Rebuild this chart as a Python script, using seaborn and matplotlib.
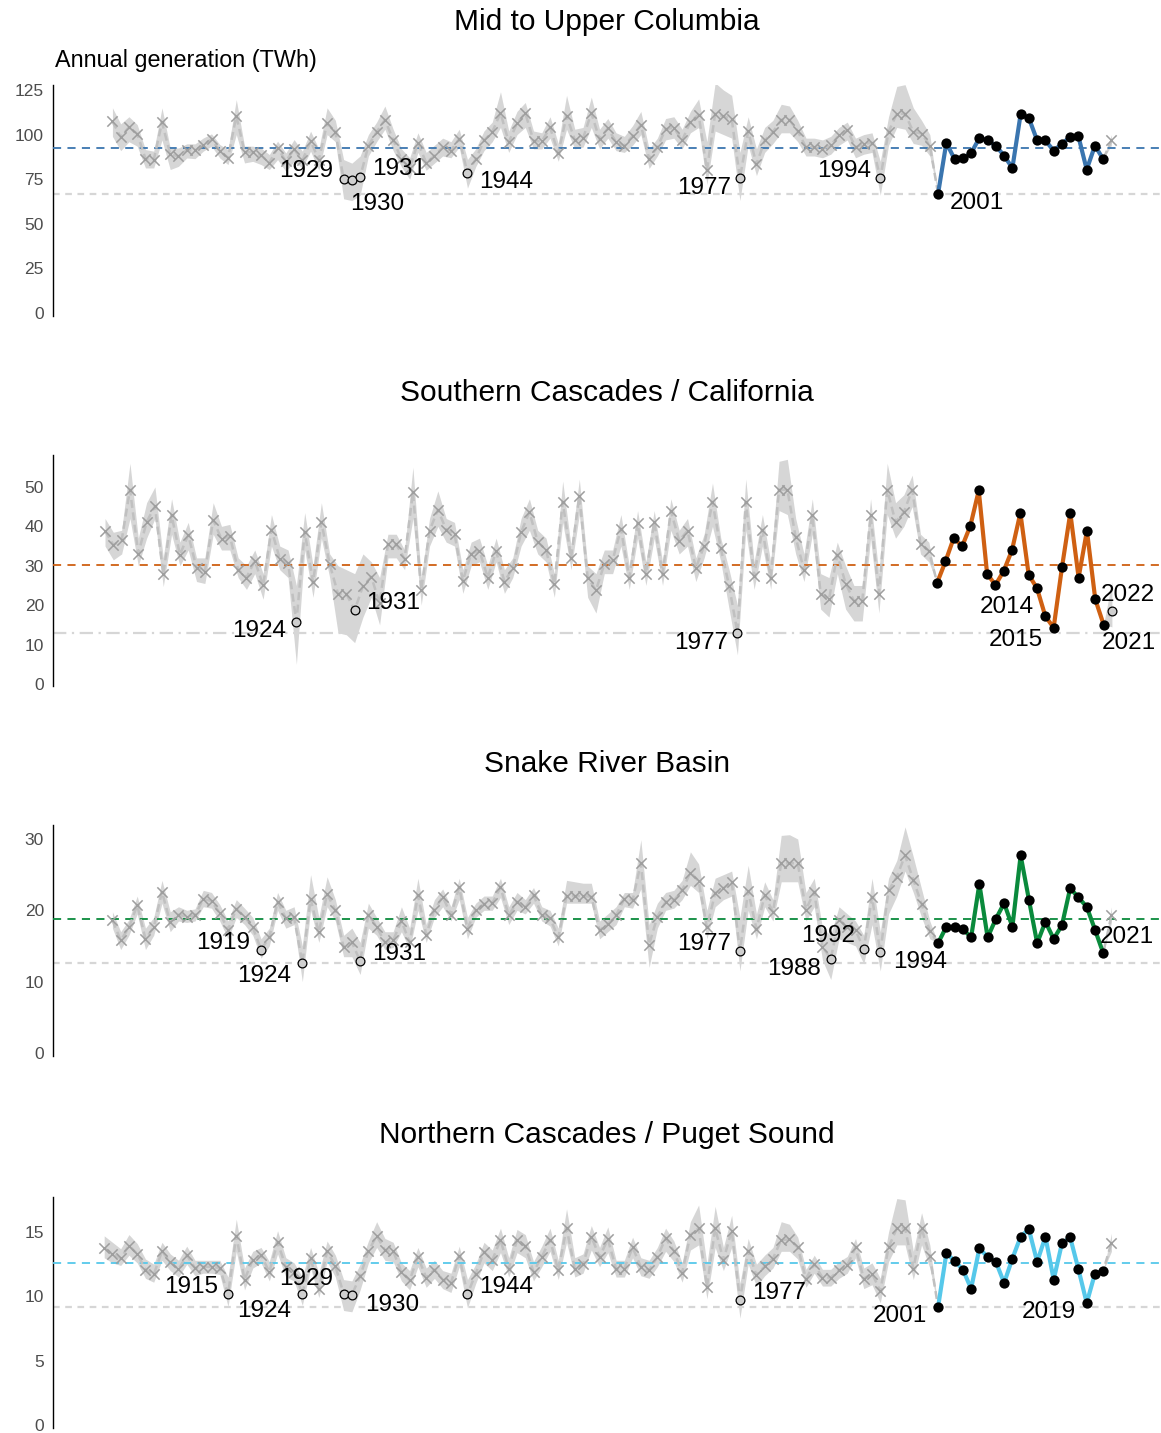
import numpy as np
import pandas as pd
import matplotlib
matplotlib.use('Agg')
import matplotlib.pyplot as plt
import seaborn as sns

# ---- data (TWh) ----
regions = ['Mid to Upper Columbia', 'Southern Cascades / California',
           'Snake River Basin', 'Northern Cascades / Puget Sound']
line_colors = ['#3A75AF', '#CF6012', '#0A8A3C', '#56C8EA']

# Mid to Upper Columbia, reconstructed 1901-2000 (median, low, high)
col_med = [107.4, 98.6, 104.2, 100.4, 86.5, 85.8, 106.8, 89.0, 87.8, 91.3,
           91.1, 94.1, 97.4, 90.8, 87.0, 110.4, 90.3, 90.0, 88.4, 84.2,
           92.5, 85.1, 91.8, 85.5, 96.2, 86.0, 106.3, 101.5, 75.0, 74.6,
           76.2, 93.8, 101.5, 108.3, 97.1, 86.2, 81.3, 95.4, 84.2, 88.1,
           92.9, 91.0, 97.7, 78.5, 86.2, 96.7, 101.5, 112.1, 95.8, 106.3,
           112.1, 96.5, 96.2, 104.0, 89.6, 110.5, 97.0, 97.9, 112.1, 97.3,
           103.5, 95.8, 93.8, 99.2, 105.4, 86.5, 92.9, 103.1, 103.8, 96.7,
           107.3, 111.2, 80.0, 111.7, 110.2, 108.8, 75.6, 101.9, 83.3, 96.7,
           101.5, 108.3, 108.3, 101.9, 92.9, 92.9, 91.9, 94.2, 99.6, 102.5,
           92.9, 94.8, 95.4, 75.6, 101.5, 111.7, 111.7, 101.5, 100.6, 93.8]
col_lo = [99, 91, 96, 93.5, 81.3, 81.3, 97, 80.4, 82.2, 86.9,
          86.5, 90.7, 93.5, 86.9, 83.2, 100, 84.1, 85, 83.2, 80.4,
          86, 79.4, 85, 81.3, 90.7, 80, 100, 96, 64, 63,
          66, 88, 96, 103, 91, 82, 75, 90, 80, 84,
          88, 87, 93, 70, 82, 91, 96, 104, 90, 100,
          104, 92, 92, 98, 85, 103, 92, 93, 104, 92,
          98, 91, 90, 94, 100, 81, 88, 97, 98, 92,
          101, 104, 72, 102, 100, 98, 63, 94, 77, 90,
          95, 101, 101, 96, 88, 88, 87, 89, 94, 97,
          87, 89, 90, 66, 94, 104, 103, 95, 94, 88]
col_hi = [115, 106, 110, 105.6, 91.6, 90.7, 115, 92.5, 92.5, 94.8,
          94.8, 98.1, 100.4, 94.4, 91.6, 119.6, 93.5, 93.5, 92.5, 88.8,
          96.3, 89.7, 97.2, 90.7, 101.9, 92, 115, 108, 86, 84,
          88, 100, 107, 116, 103, 92, 87, 101, 90, 94,
          98, 96, 103, 86, 92, 102, 107, 124, 102, 113,
          118, 102, 101, 110, 95, 122, 103, 104, 121, 103,
          109, 101, 99, 105, 113, 92, 98, 109, 110, 103,
          113, 120, 96, 129, 125, 122, 90, 110, 92, 104,
          108, 117, 116, 108, 98, 98, 97, 99, 104, 107,
          98, 100, 101, 85, 110, 127, 128, 115, 108, 100]
col_obs = [66.9, 95.4, 86.2, 86.7, 89.6, 98.1, 96.7, 93.8, 88.1, 81.3, 111.5,
           109.2, 96.7, 96.7, 91.0, 94.8, 98.7, 99.0, 80.4, 93.8, 86.2]
col_2022 = [96.7, 94, 100]

# Southern Cascades / California
cal_med = [38.9, 35.3, 36.5, 49.3, 33.1, 41.1, 45.1, 27.8, 42.8, 32.8,
           37.8, 29.5, 28.5, 41.6, 36.8, 37.5, 29.0, 27.0, 31.3, 25.0,
           39.2, 31.8, 30.6, 15.8, 38.6, 25.8, 41.1, 30.4, 22.9, 22.9,
           18.7, 24.9, 27.2, 20.5, 35.4, 35.4, 31.7, 48.7, 23.8, 38.9,
           44.2, 39.2, 38.1, 26.2, 33.1, 33.8, 27.0, 33.7, 26.0, 29.4,
           38.5, 43.6, 36.1, 34.0, 25.3, 46.2, 32.0, 47.7, 27.0, 23.8,
           30.4, 31.4, 39.4, 27.0, 40.8, 28.0, 41.1, 27.9, 43.9, 36.4,
           38.9, 29.4, 35.1, 46.2, 34.4, 24.9, 13.0, 46.2, 27.4, 39.1,
           27.0, 49.3, 49.3, 37.2, 28.9, 42.8, 22.9, 21.5, 32.8, 25.5,
           21.1, 21.1, 42.8, 22.9, 49.3, 41.1, 43.6, 49.3, 35.5, 33.8]
cal_lo = [35, 31.5, 33, 42, 30, 37, 42, 24.7, 38, 30,
          34, 26, 25.5, 38, 34, 34, 27, 24, 28, 21.5,
          35, 29, 27, 5, 34, 22, 37, 27, 13, 12.5,
          10.5, 17, 22, 15, 32, 32, 29, 42, 20, 35,
          40, 36, 35, 23, 30, 31, 24, 31, 23, 27,
          35, 39, 33, 31, 22, 41, 29, 43, 22, 18,
          28, 28, 35, 24, 37, 25, 37, 25, 39, 33,
          35, 26, 32, 40, 31, 19, 7.4, 39, 24, 35,
          24, 44, 43, 33, 26, 38, 19, 17, 28, 19,
          16, 16, 37, 18, 43, 37, 40, 45, 33, 31]
cal_hi = [42, 38.5, 39, 56, 37, 46, 50, 32, 47, 36,
          41, 32, 32, 46, 40, 40.5, 32, 30, 34, 28,
          43, 35, 34, 25, 43.5, 30, 46, 33, 30, 29,
          28, 33, 31, 27, 38, 38, 34, 55, 27, 42,
          49, 42, 41, 29, 36, 37, 30, 37, 29, 32,
          42, 47, 39, 37, 28, 51.5, 35, 52, 30, 28,
          34, 34, 43, 30, 44, 31, 44, 31, 47, 39,
          42, 32, 38, 51, 37, 29, 20, 52, 31, 43,
          31, 56.5, 57, 42, 33, 47, 28, 27, 36, 30,
          25, 25, 47, 28, 56, 46, 48, 53, 38, 36]
cal_obs = [25.7, 31.1, 37.1, 34.9, 40.2, 49.1, 28.0, 25.1, 28.7, 34.0, 43.4,
           27.7, 24.3, 17.2, 14.3, 29.6, 43.4, 27.0, 38.9, 21.5, 15.1]
cal_2022 = [18.5, 14.5, 26]

# Snake River Basin
snk_med = [18.6, 15.8, 17.6, 20.7, 16.0, 17.6, 22.6, 18.3, 19.4, 19.1,
           19.3, 21.6, 21.3, 19.6, 17.3, 20.2, 19.1, 17.6, 14.5, 16.2,
           21.2, 18.9, 19.0, 12.6, 21.6, 16.9, 22.3, 20.0, 14.8, 15.5,
           12.9, 19.4, 17.7, 15.5, 15.8, 18.5, 15.5, 22.1, 16.6, 20.1,
           21.9, 19.4, 23.2, 17.4, 20.1, 20.9, 21.0, 23.2, 19.3, 21.2,
           20.4, 22.1, 19.4, 18.9, 16.2, 22.0, 22.0, 22.0, 21.9, 17.2,
           18.1, 19.3, 21.6, 21.4, 26.6, 15.2, 19.1, 21.2, 21.4, 22.8,
           25.3, 24.1, 17.6, 22.4, 23.1, 24.0, 14.3, 22.7, 17.4, 22.1,
           19.8, 26.6, 26.6, 26.6, 20.1, 22.6, 14.9, 13.2, 18.7, 17.7,
           17.2, 14.6, 21.9, 14.1, 22.8, 24.7, 27.7, 24.3, 20.9, 17.1]
snk_lo = [17.5, 14.5, 16.5, 19.5, 14.5, 16.5, 21, 17, 18.5, 18.3,
          18.5, 20.5, 20.3, 18.5, 16, 19, 18, 16.5, 13.3, 15,
          20, 17.5, 18, 10, 20, 15.5, 20.5, 18.5, 13.5, 13.5,
          11, 17.5, 16.5, 14.5, 14.8, 17, 14.5, 20, 15.5, 19,
          20.5, 18.5, 21.5, 16, 19, 20, 20, 21.8, 18, 20,
          19.5, 21, 18.5, 17.8, 15, 21, 21, 21, 21, 16,
          17, 18, 20.5, 20.3, 23, 12, 17.5, 20, 20.3, 21.5,
          23.5, 22.5, 16, 20.5, 21.5, 22, 11.5, 20, 16, 20.5,
          18.5, 24, 24, 24, 18.5, 20.5, 13, 10.3, 16, 15.5,
          15, 12.5, 18, 11.5, 19.5, 22, 25.5, 22.5, 19, 16]
snk_hi = [19.8, 17, 18.7, 22, 17.5, 19, 24.2, 19.8, 20.5, 20,
          20.2, 22.8, 22.5, 20.8, 18.5, 21.5, 20.3, 19, 16, 17.5,
          22.5, 20, 20.5, 15, 25, 19, 24.7, 21.5, 16.5, 17.5,
          15.5, 21, 19, 17, 17, 20.5, 17.5, 24.5, 18, 21.5,
          23, 20.5, 24.5, 19, 21, 22, 22, 24.5, 20.5, 22.5,
          21.5, 23.2, 20.5, 20, 17.5, 24.2, 24, 23.8, 23.8, 18.5,
          19.5, 20.5, 22.5, 22.5, 29.9, 18, 21, 22.5, 22.8, 24.2,
          28.2, 26.5, 20, 24.5, 25, 25.5, 19, 26.3, 19.5, 24,
          21.5, 30.5, 30.6, 30, 22.5, 24.5, 17.5, 16.5, 20.5, 19.5,
          18.5, 16.5, 24.5, 17, 24.5, 27, 31.7, 27.5, 23, 18.5]
snk_obs = [15.4, 17.7, 17.6, 17.4, 16.2, 23.7, 16.2, 18.8, 21.0, 17.7, 27.7,
           21.5, 15.4, 18.4, 16.0, 17.9, 23.1, 21.8, 20.5, 17.3, 14.0]
snk_2022 = [19.3, 18.3, 20.5]

# Northern Cascades / Puget Sound (starts 1900)
pug_med = [13.75,
           13.3, 12.95, 13.95, 13.3, 12.08, 11.7, 13.5, 12.65, 12.1, 13.2,
           12.2, 12.3, 12.3, 12.2, 10.15, 14.7, 11.3, 12.85, 13.2, 11.9,
           14.2, 12.3, 11.9, 10.2, 12.95, 10.6, 13.5, 12.35, 10.2, 10.13,
           11.56, 13.5, 14.7, 13.6, 13.5, 11.9, 11.25, 13.07, 11.46, 12.08,
           11.3, 11.04, 13.13, 10.16, 11.77, 13.46, 12.81, 14.38, 12.16, 14.38,
           13.91, 11.9, 13.07, 14.38, 12.03, 15.29, 12.16, 12.5, 14.64, 13.07,
           14.43, 12.16, 12.16, 13.8, 12.29, 12.03, 13.07, 14.51, 13.52, 11.82,
           14.77, 15.29, 10.73, 15.29, 12.81, 15.1, 9.74, 13.54, 11.64, 12.34,
           12.94, 14.38, 14.43, 13.8, 11.38, 12.5, 11.46, 11.46, 12.03, 12.42,
           13.8, 11.38, 11.77, 10.42, 13.8, 15.29, 15.29, 12.16, 15.29, 13.13]
pug_lo = [13.0,
          12.6, 12.4, 13.2, 12.6, 11.4, 11.1, 12.8, 12.0, 11.5, 12.5,
          11.6, 11.8, 11.8, 11.7, 9.2, 13.5, 10.5, 12.2, 12.6, 11.2,
          13.3, 11.5, 11.2, 9.3, 12.2, 9.9, 12.7, 11.5, 8.9, 8.8,
          10.5, 12.6, 13.8, 12.8, 12.7, 11.2, 10.5, 12.3, 10.7, 11.4,
          10.6, 10.3, 12.3, 9.1, 11.0, 12.6, 12.0, 13.4, 11.5, 13.4,
          13.0, 11.2, 12.3, 13.5, 11.3, 14.2, 11.5, 11.8, 13.6, 12.3,
          13.4, 11.5, 11.5, 13.0, 11.6, 11.4, 12.3, 13.5, 12.7, 11.1,
          13.6, 14.0, 9.8, 13.8, 12.0, 13.8, 8.3, 12.5, 10.8, 11.6,
          12.2, 13.5, 13.5, 12.9, 10.7, 11.8, 10.8, 10.8, 11.4, 11.8,
          13.0, 10.6, 10.9, 9.5, 12.7, 14.0, 14.0, 11.3, 14.0, 12.2]
pug_hi = [14.7,
          14.2, 13.7, 14.8, 14.1, 12.9, 12.5, 14.2, 13.3, 12.8, 13.9,
          12.8, 12.8, 12.8, 12.8, 11.5, 16.0, 12.2, 13.5, 13.8, 12.7,
          15.1, 13.0, 12.6, 11.5, 13.8, 11.8, 14.3, 13.2, 11.3, 11.2,
          12.5, 14.3, 15.8, 14.5, 14.2, 12.6, 12.0, 13.8, 12.2, 12.8,
          12.0, 11.8, 13.9, 11.3, 12.5, 14.2, 13.6, 15.3, 13.0, 15.2,
          14.8, 12.7, 13.9, 15.3, 12.8, 16.8, 13.0, 13.3, 15.5, 13.8,
          15.4, 12.8, 12.8, 14.6, 13.0, 12.8, 13.8, 15.3, 14.3, 12.6,
          15.8, 17.1, 12.5, 17.0, 13.8, 16.3, 11.0, 14.5, 12.5, 13.2,
          13.8, 15.8, 15.6, 14.6, 12.1, 13.2, 12.1, 12.1, 12.7, 13.1,
          14.5, 12.2, 12.6, 11.4, 15.0, 17.6, 17.5, 13.5, 16.5, 14.0]
pug_obs = [9.17, 13.33, 12.76, 12.08, 10.60, 13.72, 13.07, 12.68, 11.04, 12.94, 14.64,
           15.21, 12.68, 14.64, 11.30, 14.11, 14.58, 12.11, 9.48, 11.77, 11.98]
pug_2022 = [14.17, 13.5, 14.9]

first_years = [1901, 1901, 1901, 1900]
low_years = [[1929, 1930, 1931, 1944, 1977, 1994, 2001],
             [1924, 1931, 1977, 2014, 2015, 2021, 2022],
             [1919, 1924, 1931, 1977, 1988, 1992, 1994, 2021],
             [1915, 1924, 1929, 1930, 1944, 1977, 2001, 2019]]
y_ticks = [[0, 25, 50, 75, 100, 125], [0, 10, 20, 30, 40, 50],
           [0, 10, 20, 30], [0, 5, 10, 15]]

# ---- layout (pixels of the 1161x1433 canvas) ----
W, H = 1161, 1433
ax_top = [85, 455, 825, 1197]
ax_bot = [316, 686, 1056, 1428]
title_y = [22, 393, 764, 1135]
y_lims = [(-1.7, 127.8), (-0.5, 58.1), (-0.42, 31.96), (-0.23, 17.72)]
x_lims = [(1893.8, 2028.0), (1894.75, 2027.9), (1893.8, 2028.0), (1893.8, 2028.0)]
min_dashes = [(3, 2.5), (6, 2.5, 1, 2.5), (3, 2.5), (3, 2.5)]

# label placement: year -> (dx px, dy px downward, ha)
label_pos = [
    {1929: (-10, -8, 'right'), 1930: (-2, 24, 'left'), 1931: (12, -8, 'left'),
     1944: (12, 9, 'left'), 1977: (-9, 10, 'right'), 1994: (-9, -7, 'right'),
     2001: (12, 9, 'left')},
    {1924: (-10, 9, 'right'), 1931: (11, -7, 'left'), 1977: (-9, 10, 'right'),
     2014: (-11, -9, 'right'), 2015: (-11, 12, 'right'), 2021: (-2, 18, 'left'),
     2022: (-11, -16, 'left')},
    {1919: (-11, -7, 'right'), 1924: (-11, 13, 'right'), 1931: (12, -7, 'left'),
     1977: (-9, -7, 'right'), 1988: (-10, 10, 'right'), 1992: (-9, -13, 'right'),
     1994: (13, 10, 'left'), 2021: (-3, -16, 'left')},
    {1915: (-10, -7, 'right'), 1924: (-11, 17, 'right'), 1929: (-10, -15, 'right'),
     1930: (13, 10, 'left'), 1944: (12, -7, 'left'), 1977: (12, -7, 'left'),
     2001: (-11, 9, 'right'), 2019: (-11, 9, 'right')},
]


def build_frame(first, med, lo, hi, obs, last):
    years = np.arange(first, 2023)
    df = pd.DataFrame({
        'year': years,
        'gen': list(med) + list(obs) + [last[0]],
        'lo': list(lo) + list(obs) + [last[1]],
        'hi': list(hi) + list(obs) + [last[2]],
    })
    df['observed'] = df['year'].between(2001, 2021)
    return df


frames = [build_frame(first_years[0], col_med, col_lo, col_hi, col_obs, col_2022),
          build_frame(first_years[1], cal_med, cal_lo, cal_hi, cal_obs, cal_2022),
          build_frame(first_years[2], snk_med, snk_lo, snk_hi, snk_obs, snk_2022),
          build_frame(first_years[3], pug_med, pug_lo, pug_hi, pug_obs, pug_2022)]

sns.set_style('white')
plt.rcParams['font.family'] = ['Liberation Sans', 'DejaVu Sans']

fig = plt.figure(figsize=(W / 100, H / 100), dpi=100)

for i, df in enumerate(frames):
    ax = fig.add_axes([53 / W, 1 - ax_bot[i] / H, (W - 53) / W, (ax_bot[i] - ax_top[i]) / H])
    col = line_colors[i]
    obs = df[df['observed']]
    low = df[df['year'].isin(low_years[i])]
    recon = df[~df['observed'] & ~df['year'].isin(low_years[i])]
    low_recon = low[~low['observed']]

    # overall minimum and observed mean
    ax.axhline(df['gen'].min(), color='#D6D6D6', lw=1.6, dashes=min_dashes[i], zorder=1)
    ax.fill_between(df['year'], df['lo'], df['hi'], color='#D6D6D6', lw=0, zorder=2)
    ax.axhline(obs['gen'].mean(), color=col, lw=1.3, dashes=(4.5, 3.5), zorder=3)

    sns.lineplot(data=df, x='year', y='gen', ax=ax, color='#C0C0C0', linewidth=1.8,
                 linestyle=(0, (3.2, 1.8)), errorbar=None, zorder=4)
    sns.scatterplot(data=recon, x='year', y='gen', ax=ax, marker='x', color='#9E9E9E',
                    s=55, linewidth=1.1, zorder=5)
    sns.scatterplot(data=low_recon, x='year', y='gen', ax=ax, marker='o', color='#CFCFCF',
                    edgecolor='black', s=40, linewidth=0.9, zorder=6)
    sns.lineplot(data=obs, x='year', y='gen', ax=ax, color=col, linewidth=3.0,
                 errorbar=None, zorder=7)
    sns.scatterplot(data=obs, x='year', y='gen', ax=ax, color='black', s=55,
                    linewidth=0, zorder=8)

    for _, row in low.iterrows():
        dx, dy, ha = label_pos[i][int(row['year'])]
        ax.annotate(str(int(row['year'])), (row['year'], row['gen']),
                    xytext=(dx, -dy), textcoords='offset pixels', ha=ha, va='center',
                    fontsize=17.5, color='black', zorder=9, annotation_clip=False)

    ax.set_xlim(*x_lims[i])
    ax.set_ylim(*y_lims[i])
    ax.set_yticks(y_ticks[i])
    ax.set_xticks([])
    ax.set_xlabel('')
    ax.set_ylabel('')
    for side in ['top', 'right', 'bottom']:
        ax.spines[side].set_visible(False)
    ax.spines['left'].set_color('black')
    ax.spines['left'].set_linewidth(1.0)
    ax.tick_params(axis='y', direction='out', length=3.5, width=1.0, color='black',
                   labelsize=12.5, labelcolor='#4D4D4D', pad=3)
    ax.patch.set_alpha(0)

    fig.text(607 / W, 1 - title_y[i] / H, regions[i], ha='center', va='center',
             fontsize=21.5, color='black')

fig.text(55 / W, 1 - 60 / H, 'Annual generation (TWh)', ha='left', va='center',
         fontsize=16.8, color='black')

fig.savefig('out.png', dpi=100)
